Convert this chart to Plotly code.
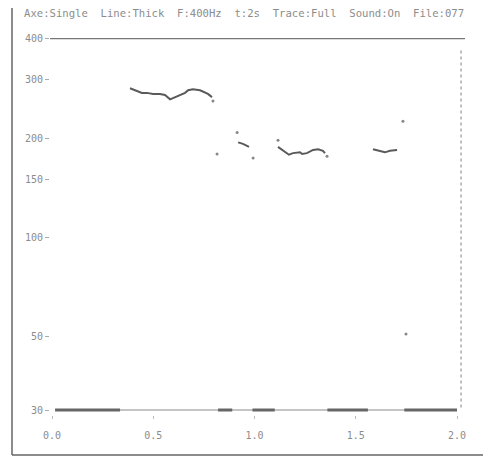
import plotly.graph_objects as go

# ---- data ----
header_text = "Axe:Single  Line:Thick  F:400Hz  t:2s  Trace:Full  Sound:On  File:077"

y_tick_vals = [30, 50, 100, 150, 200, 300, 400]
y_tick_text = ["30", "50", "100", "150", "200", "300", "400"]
x_tick_vals = [0.0, 0.5, 1.0, 1.5, 2.0]
x_tick_text = ["0.0", "0.5", "1.0", "1.5", "2.0"]

# pitch contour segments (time s, Hz)
seg1_t = [0.385, 0.410, 0.444, 0.469, 0.499, 0.533, 0.558, 0.583, 0.607, 0.632,
          0.657, 0.672, 0.696, 0.731, 0.756, 0.770, 0.790]
seg1_f = [283, 279, 274, 274, 272, 272, 270, 262, 266, 270,
          274, 279, 281, 279, 274, 272, 266]
seg2_t = [0.919, 0.943, 0.973]
seg2_f = [194, 192, 188]
seg3_t = [1.116, 1.146, 1.170, 1.190, 1.225, 1.235, 1.259, 1.289, 1.314, 1.338, 1.348]
seg3_f = [188, 183, 178, 180, 181, 179, 180, 184, 185, 183, 180]
seg4_t = [1.585, 1.620, 1.644, 1.669, 1.704]
seg4_f = [185, 183, 181, 183, 184]

# isolated pitch points
dots_t = [0.795, 0.815, 0.914, 0.993, 1.116, 1.358, 1.733, 1.748]
dots_f = [259, 179, 208, 174, 197, 176, 225, 51]

# voicing baseline (at 30 Hz): full span and voiced (thick) stretches
base_t = [0.015, 2.0]
base_f = [30, 30]
voiced_start = [0.015, 0.82, 0.99, 1.36, 1.74]
voiced_end = [0.336, 0.89, 1.10, 1.56, 2.0]

# ---- figure ----
W, H = 483, 457          # page body has an 8px default margin
ML, MT, MR, MB = 42, 30, 26, 50
fig = go.Figure()

trace_col = "#5a5a5a"

fig.add_trace(go.Scatter(x=base_t, y=base_f, mode="lines",
                         line=dict(color="#8a8a8a", width=1), hoverinfo="skip"))
vx, vy = [], []
for s, e in zip(voiced_start, voiced_end):
    vx += [s, e, None]
    vy += [30, 30, None]
fig.add_trace(go.Scatter(x=vx, y=vy, mode="lines",
                         line=dict(color="#666666", width=3), hoverinfo="skip"))

cx, cy = [], []
for t, f in [(seg1_t, seg1_f), (seg2_t, seg2_f), (seg3_t, seg3_f), (seg4_t, seg4_f)]:
    cx += t + [None]
    cy += f + [None]
fig.add_trace(go.Scatter(x=cx, y=cy, mode="lines",
                         line=dict(color=trace_col, width=2),
                         connectgaps=False, hoverinfo="skip"))
fig.add_trace(go.Scatter(x=dots_t, y=dots_f, mode="markers",
                         marker=dict(color="#888888", size=3), hoverinfo="skip"))

lbl_font = dict(family="DejaVu Sans Mono", size=10, color="#8c8c8c")

fig.update_layout(
    width=W, height=H,
    margin=dict(l=ML, r=MR, t=MT, b=MB),
    paper_bgcolor="white", plot_bgcolor="white",
    showlegend=False,
    xaxis=dict(range=[-0.01, 2.0395], tickvals=x_tick_vals, ticktext=x_tick_text,
               showgrid=False, zeroline=False, showline=False,
               ticks="outside", ticklen=3, tickcolor="#bbbbbb",
               tickfont=lbl_font, ticklabelstandoff=8),
    yaxis=dict(type="log", range=[1.462, 2.604], tickvals=y_tick_vals, ticktext=y_tick_text,
               showgrid=False, zeroline=False, showline=False,
               ticks="outside", ticklen=4, tickcolor="#aaaaaa",
               tickfont=lbl_font),
)

fig.add_shape(type="line", xref="paper", yref="y", x0=0.0, x1=1.0, y0=400, y1=400,
              line=dict(color="#777777", width=1.2))
fig.add_shape(type="line", xref="x", yref="paper", x0=2.02, x1=2.02, y0=0.02, y1=0.97,
              line=dict(color="#aaaaaa", width=1.5, dash="dot"))

pw = W - ML - MR
ph = H - MT - MB
def px_x(p):   # p = target page pixel
    return (p - 8 - ML) / pw
def px_y(p):
    return 1 - (p - 8 - MT) / ph
fig.add_shape(type="line", xref="paper", yref="paper", x0=px_x(12), x1=px_x(12),
              y0=px_y(8), y1=px_y(455), line=dict(color="#666666", width=1.5))
fig.add_shape(type="line", xref="paper", yref="paper", x0=px_x(12), x1=px_x(490),
              y0=px_y(455), y1=px_y(455), line=dict(color="#666666", width=1.5))

fig.add_annotation(text=header_text, xref="paper", yref="paper",
                   x=px_x(22), y=px_y(13), xanchor="left", yanchor="middle",
                   showarrow=False, font=dict(family="DejaVu Sans Mono", size=10.6, color="#8c8c8c"))

fig.write_html("out.html")
